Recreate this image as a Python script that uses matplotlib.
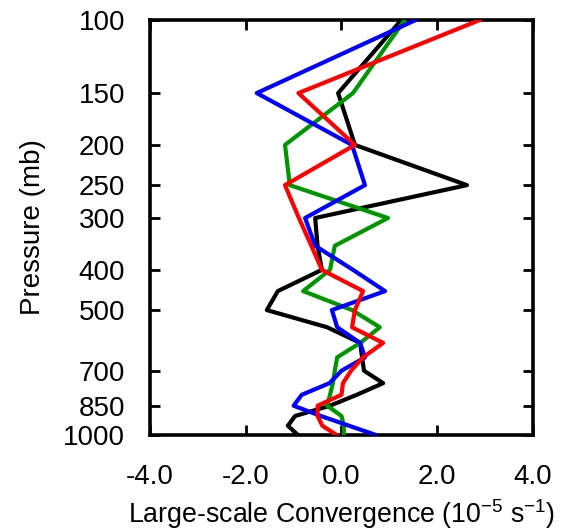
import matplotlib
matplotlib.use("Agg")
import matplotlib.pyplot as plt
from matplotlib.ticker import FixedLocator, NullLocator

plt.rcParams['font.family'] = ['Liberation Sans', 'DejaVu Sans']

pressure = [100, 150, 200, 250, 300, 350, 400, 450, 500, 550, 600, 650, 700, 750, 800, 850, 900, 950, 1000]

black = [1.25, -0.07, 0.28, 2.62, -0.55, -0.50, -0.41, -1.33, -1.56, -0.30, 0.39, 0.43, 0.47, 0.87, 0.32, -0.24, -0.97, -1.12, -0.91]
green = [1.32, 0.24, -1.18, -1.08, 0.97, -0.14, -0.24, -0.80, 0.22, 0.80, 0.39, -0.09, -0.14, -0.18, -0.24, -0.30, 0.00, 0.05, 0.05]
blue = [1.55, -1.77, 0.22, 0.49, -0.76, -0.55, 0.24, 0.91, -0.20, -0.09, 0.39, 0.49, 0.00, -0.25, -0.83, -1.00, -0.43, 0.16, 0.72]
red = [2.89, -0.90, 0.28, -1.18, -0.89, -0.63, -0.41, 0.45, 0.28, 0.22, 0.87, 0.45, 0.20, 0.03, 0.00, -0.50, -0.50, -0.40, -0.10]

yticks = [100, 150, 200, 250, 300, 400, 500, 700, 850, 1000]
xticks = [-4.0, -2.0, 0.0, 2.0, 4.0]

fig = plt.figure(figsize=(5.62, 5.30), dpi=100)
ax = fig.add_axes([150/562, (530-435)/530, 383/562, 415/530])

lw = 3.0
ax.plot(black, pressure, color='black', lw=lw, zorder=3)
ax.plot(green, pressure, color='#009600', lw=lw, zorder=3)
ax.plot(blue, pressure, color='#0000FF', lw=lw, zorder=3)
ax.plot(red, pressure, color='#FF0000', lw=lw, zorder=3)

ax.set_yscale('log')
ax.set_ylim(1000, 100)
ax.set_xlim(-4, 4)
ax.yaxis.set_major_locator(FixedLocator(yticks))
ax.yaxis.set_minor_locator(NullLocator())
ax.set_yticklabels([str(v) for v in yticks])
ax.set_xticks(xticks)
ax.set_xticklabels([f"{v:.1f}" for v in xticks])

for s in ax.spines.values():
    s.set_linewidth(2.6)

ax.tick_params(axis='both', which='major', direction='in', length=7, width=2.0,
               top=True, right=True, labelsize=20)
ax.tick_params(axis='y', pad=18)
ax.tick_params(axis='x', pad=21)

ax.set_ylabel('Pressure (mb)', fontsize=20, labelpad=12)
ax.set_xlabel(r'Large-scale Convergence (10$^{\mathregular{-5}}$ s$^{\mathregular{-1}}$)', fontsize=19.3, labelpad=5)

fig.savefig('out.png', dpi=100)
